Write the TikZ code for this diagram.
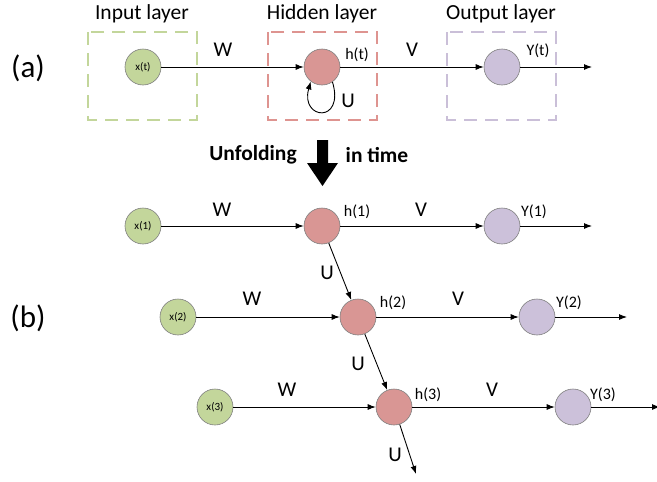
\documentclass[tikz,border=0pt]{standalone}
\usepackage{fontspec}
\setmainfont{Carlito}
\usetikzlibrary{arrows.meta}
\definecolor{ingreen}{HTML}{C3D69B}
\definecolor{hidred}{HTML}{D99694}
\definecolor{outpurple}{HTML}{CCC1DA}
\definecolor{boxgreen}{HTML}{C3D69B}
\definecolor{boxred}{HTML}{DE9490}
\definecolor{boxpurple}{HTML}{CABFD8}
\definecolor{rim}{HTML}{7F7F7F}
\tikzset{
  unit/.style={circle, draw=rim, line width=0.6pt, minimum size=36pt, inner sep=0pt, font=\fontsize{11}{11}\selectfont},
  inunit/.style={unit, fill=ingreen},
  hidunit/.style={unit, fill=hidred},
  outunit/.style={unit, fill=outpurple},
  layerbox/.style={line width=2.6pt, dash pattern=on 13pt off 8pt},
  link/.style={line width=0.9pt, -{Latex[length=8pt,width=6pt]}},
  wlabel/.style={font=\fontsize{21}{21}\selectfont},
  slabel/.style={font=\fontsize{16}{16}\selectfont},
  title/.style={font=\fontsize{21.5}{21.5}\selectfont},
  part/.style={font=\fontsize{31}{31}\selectfont},
  boldtext/.style={font=\bfseries\fontsize{21.5}{21.5}\selectfont},
}
\begin{document}
\begin{tikzpicture}[x=1pt,y=-1pt]
\useasboundingbox (0,0) rectangle (657,482);

% ---- (a) folded network ----
\node[part] (pa) at (28,68) {(a)};
\draw[layerbox, draw=boxgreen] (88,32) rectangle (197,120);
\draw[layerbox, draw=boxred] (268,32) rectangle (377,120);
\draw[layerbox, draw=boxpurple] (447,32) rectangle (556,120);
\node[title] (tin) at (142,14) {Input layer};
\node[title] (thid) at (322,14) {Hidden layer};
\node[title] (tout) at (501,14) {Output layer};

\node[inunit] (xt) at (143,67) {x(t)};
\node[hidunit] (ht) at (322,67) {};
\node[outunit] (yt) at (502,67) {};
\coordinate (yte) at (592,67);
\draw[link] (xt) -- (ht);
\draw[link] (ht) -- (yt);
\draw[link] (yt) -- (yte);
\draw[link] (ht.-55) .. controls (345,124) and (300,120) .. (ht.232);
\node[wlabel] (lw) at (223,50) {W};
\node[wlabel] (lv) at (412,50) {V};
\node[wlabel] (lu) at (348,101) {U};
\node[slabel] (lht) at (357,55) {h(t)};
\node[slabel] (lyt) at (538,51) {Y(t)};

% ---- unfolding arrow ----
\node[boldtext] (unf) at (253,155) {Unfolding};
\node[boldtext] (intime) at (377,155) {in time};
\fill[black] (317,140) -- (328,140) -- (328,163) -- (338,163) -- (322.5,186) -- (307,163) -- (317,163) -- cycle;

% ---- (b) unfolded network ----
\node[part] (pb) at (28,318) {(b)};

% step 1
\node[inunit] (x1) at (143,226) {x(1)};
\node[hidunit] (h1) at (322,226) {};
\node[outunit] (y1) at (502,226) {};
\coordinate (y1e) at (592,226);
\draw[link] (x1) -- (h1);
\draw[link] (h1) -- (y1);
\draw[link] (y1) -- (y1e);
\node[wlabel] (lw1) at (222,210) {W};
\node[wlabel] (lv1) at (421,210) {V};
\node[slabel] (lh1) at (357,212) {h(1)};
\node[slabel] (ly1) at (534,212) {Y(1)};

% step 2
\node[inunit] (x2) at (178,317) {x(2)};
\node[hidunit] (h2) at (358,317) {};
\node[outunit] (y2) at (537,317) {};
\coordinate (y2e) at (627,317);
\draw[link] (x2) -- (h2);
\draw[link] (h2) -- (y2);
\draw[link] (y2) -- (y2e);
\node[wlabel] (lw2) at (252,299) {W};
\node[wlabel] (lv2) at (458,299) {V};
\node[slabel] (lh2) at (393,303) {h(2)};
\node[slabel] (ly2) at (569,303) {Y(2)};

% step 3
\node[inunit] (x3) at (215,407) {x(3)};
\node[hidunit] (h3) at (394,407) {};
\node[outunit] (y3) at (573,407) {};
\coordinate (y3e) at (660,407);
\draw[link] (x3) -- (h3);
\draw[link] (h3) -- (y3);
\draw[link] (y3) -- (y3e);
\node[wlabel] (lw3) at (287,390) {W};
\node[wlabel] (lv3) at (492,390) {V};
\node[slabel] (lh3) at (428,395) {h(3)};
\node[slabel] (ly3) at (603,395) {Y(3)};

% recurrent links between time steps
\coordinate (h4) at (416,474);
\draw[link] (h1) -- (h2);
\draw[link] (h2) -- (h3);
\draw[link] (h3) -- (h4);
\node[wlabel] (lu1) at (327,273) {U};
\node[wlabel] (lu2) at (358,364) {U};
\node[wlabel] (lu3) at (395,455) {U};
\end{tikzpicture}
\end{document}
